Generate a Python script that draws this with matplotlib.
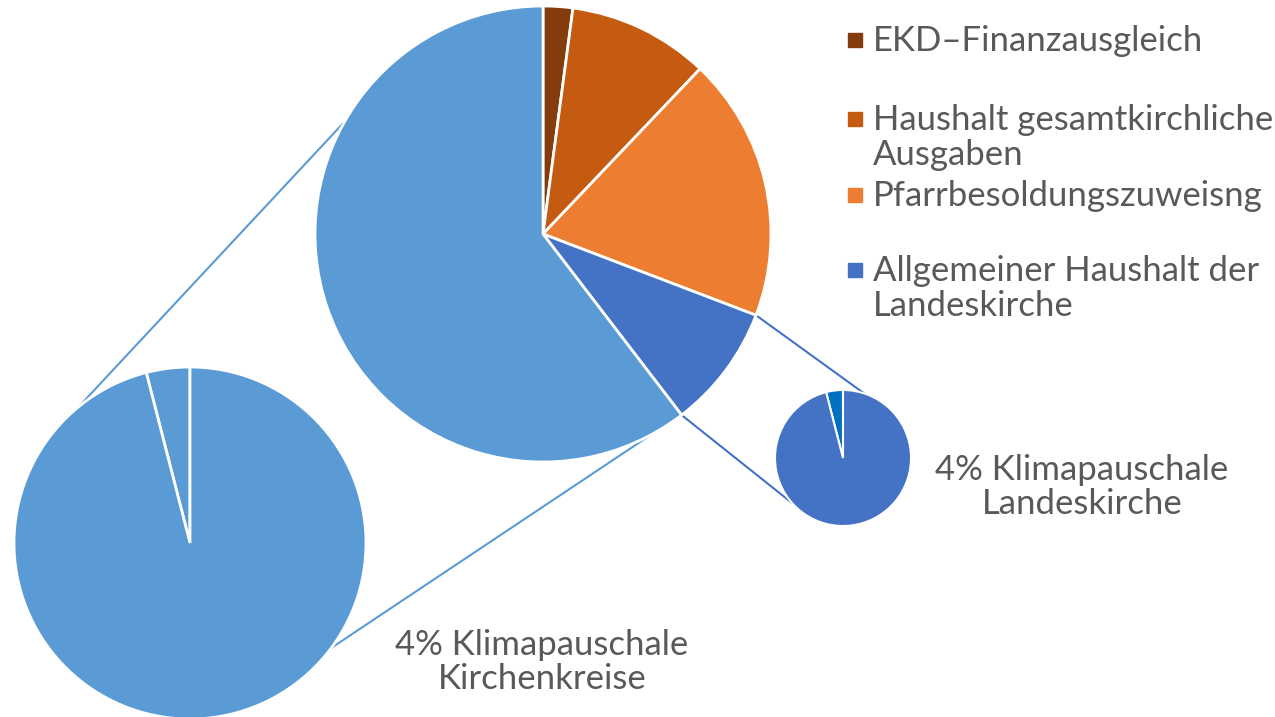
import numpy as np
import matplotlib
matplotlib.use("Agg")
import matplotlib.pyplot as plt
from matplotlib.patches import Rectangle

# main pie (clockwise from 12 o'clock)
labels = ["EKD\u2013Finanzausgleich",
          "Haushalt gesamtkirchliche\nAusgaben",
          "Pfarrbesoldungszuweisng",
          "Allgemeiner Haushalt der\nLandeskirche",
          "Kirchenkreise"]
values = [2.1, 10.0, 18.7, 8.8, 60.4]
colors = ["#843c0c", "#c55a11", "#ed7d31", "#4472c4", "#5b9bd5"]

# the two small pies: 4% Klimapauschale
kk_values = [4, 96]
kk_colors = ["#5b9bd5", "#5b9bd5"]
lk_values = [4, 96]
lk_colors = ["#0070c0", "#4472c4"]

text_col = "#595959"
plt.rcParams["font.family"] = ["Lato", "DejaVu Sans"]

W, H = 1275, 717
fig = plt.figure(figsize=(W / 100, H / 100), dpi=100)
ax = fig.add_axes([0, 0, 1, 1])

main_c, main_r = (543, H - 234), 228
left_c, left_r = (190, H - 543), 176
right_c, right_r = (843, H - 458), 68

wp = dict(edgecolor="white", linewidth=2)
ax.pie(values, colors=colors, startangle=90, counterclock=False,
       center=main_c, radius=main_r, wedgeprops=wp)
ax.pie(kk_values, colors=kk_colors, startangle=90, counterclock=True,
       center=left_c, radius=left_r, wedgeprops=wp)
ax.pie(lk_values, colors=lk_colors, startangle=90, counterclock=True,
       center=right_c, radius=right_r, wedgeprops=dict(edgecolor="white", linewidth=1.5))


def pt(c, r, deg):
    a = np.radians(deg)
    return c[0] + r * np.cos(a), c[1] + r * np.sin(a)


# connector lines
cum = np.cumsum(values) / sum(values)
b1 = 90 - 360 * cum[2]   # Pfarr / Allgemeiner boundary
b2 = 90 - 360 * cum[3]   # Allgemeiner / Kirchenkreise boundary
for a_main, a_small in [(b1, 72), (b2, -138.6)]:
    p, q = pt(main_c, main_r, a_main), pt(right_c, right_r, a_small)
    ax.plot([p[0], q[0]], [p[1], q[1]], color="#4472c4", lw=1.5, zorder=0)
for a_main, a_small in [(150.5, 129), (-62, -36.6)]:
    p, q = pt(main_c, main_r, a_main), pt(left_c, left_r, a_small)
    ax.plot([p[0], q[0]], [p[1], q[1]], color="#5b9bd5", lw=1.5, zorder=0)

# legend
fs = 25
leg_y = [38, 117, 193, 268]
for lab, col, y in zip(labels[:4], colors[:4], leg_y):
    ax.add_patch(Rectangle((848, H - y - 9), 14, 14, color=col))
    ax.text(873, H - y + 13, lab, fontsize=fs, color=text_col,
            va="top", ha="left", linespacing=1.1)

ax.text(542, H - 662, "4% Klimapauschale\nKirchenkreise", fontsize=fs,
        color=text_col, ha="center", va="center", linespacing=1.1)
ax.text(1082, H - 487, "4% Klimapauschale\nLandeskirche", fontsize=fs,
        color=text_col, ha="center", va="center", linespacing=1.1)

ax.set_xlim(0, W)
ax.set_ylim(0, H)
ax.set_aspect("equal")
ax.axis("off")
fig.savefig("out.png", dpi=100, facecolor="white")
